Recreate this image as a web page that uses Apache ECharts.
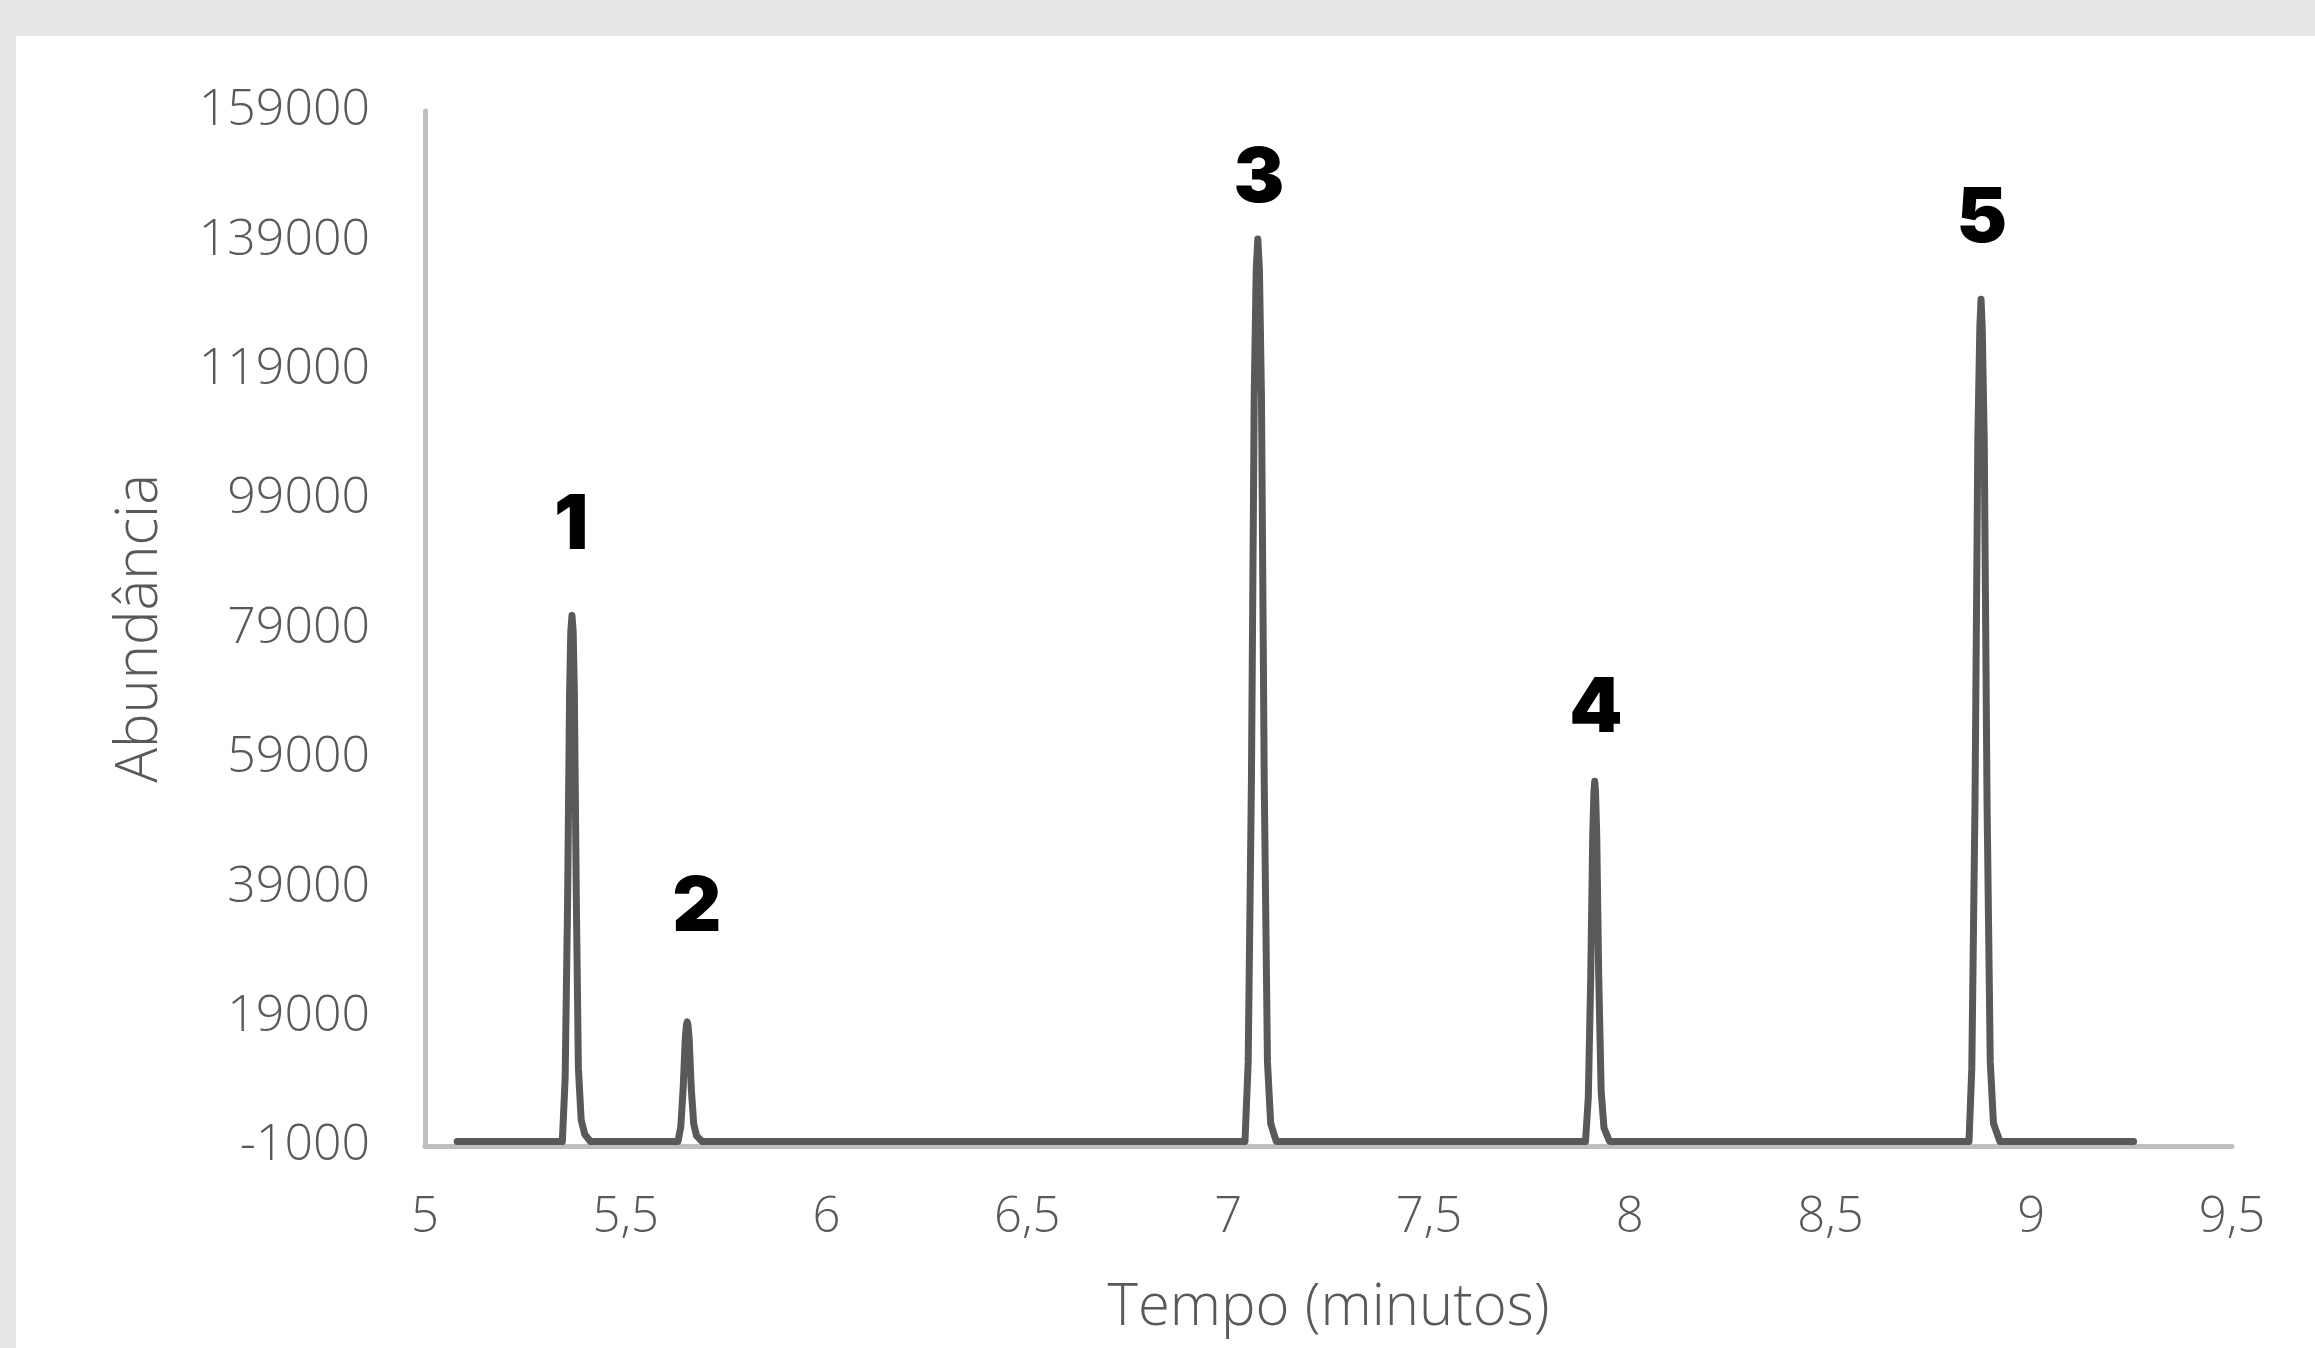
<!DOCTYPE html>
<html>
<head>
<meta charset="utf-8">
<title>Cromatograma</title>
<script src="https://cdn.jsdelivr.net/npm/echarts@6/dist/echarts.min.js"></script>
<style>
  html, body { margin: 0; padding: 0; background: #e6e6e4; }
  #chart { position: absolute; left: 16px; top: 36px; width: 2299px; height: 1312px; background: #fff; }
</style>
</head>
<body>
<div id="chart"></div>
<script>
  var tempo = [5.08,
    5.342, 5.349, 5.355, 5.360, 5.363, 5.366, 5.369, 5.372, 5.377, 5.382, 5.389, 5.398, 5.412,
    5.630, 5.637, 5.643, 5.648, 5.651, 5.653, 5.655, 5.658, 5.663, 5.669, 5.676, 5.690,
    7.042, 7.050, 7.058, 7.065, 7.070, 7.074, 7.078, 7.083, 7.090, 7.098, 7.106, 7.120,
    7.890, 7.897, 7.903, 7.908, 7.911, 7.913, 7.915, 7.918, 7.923, 7.929, 7.936, 7.950,
    8.845, 8.852, 8.860, 8.867, 8.872, 8.875, 8.878, 8.883, 8.890, 8.898, 8.906, 8.922,
    9.255];
  var abundancia = [-300,
    -300, 9500, 36300, 68800, 78500, 81000, 78500, 68800, 36300, 11000, 3000, 800, -300,
    -300, 2000, 8000, 15400, 17700, 18200, 17700, 15400, 8000, 2500, 600, -300,
    -300, 12000, 55000, 115000, 134500, 139200, 134500, 115000, 55000, 12000, 2500, -300,
    -300, 6500, 25000, 47000, 53700, 55400, 53700, 47000, 25000, 7500, 1800, -300,
    -300, 11000, 52000, 108000, 125500, 129900, 125500, 108000, 52000, 12000, 2500, -300,
    -300];

  // números dos picos
  var picoNomes = ['1', '2', '3', '4', '5'];
  var picoX = [5.364, 5.677, 7.077, 7.916, 8.877];
  var picoY = [94850, 35700, 148450, 66550, 142300];

  var yTicks = [-1000, 19000, 39000, 59000, 79000, 99000, 119000, 139000, 159000];

  var serie = tempo.map(function (t, i) {
    return [t, abundancia[i]];
  });
  var rotulos = picoX.map(function (t, i) {
    return [t, picoY[i]];
  });

  var fonte = "'Open Sans', sans-serif";
  var myChart = echarts.init(document.getElementById('chart'));
  var option = {
    animation: false,
    grid: { left: 409, right: 83, top: 75, bottom: 202 },
    xAxis: {
      type: 'value',
      min: 5,
      max: 9.5,
      interval: 0.5,
      name: 'Tempo (minutos)',
      nameLocation: 'middle',
      nameGap: 133,
      nameTextStyle: { fontFamily: fonte, fontWeight: 300, fontSize: 58, color: '#595959' },
      axisLine: { onZero: false, lineStyle: { color: '#bfbfbf', width: 5 } },
      axisTick: { show: false },
      splitLine: { show: false },
      axisLabel: {
        margin: 48,
        fontFamily: fonte,
        fontWeight: 300,
        fontSize: 49,
        color: '#595959',
        formatter: function (v) { return String(v).replace('.', ','); }
      }
    },
    yAxis: {
      type: 'value',
      min: -1000,
      max: 159000,
      name: 'Abundância',
      nameLocation: 'middle',
      nameGap: 256,
      nameTextStyle: { fontFamily: fonte, fontWeight: 300, fontSize: 58, color: '#595959' },
      axisLine: { show: true, lineStyle: { color: '#bfbfbf', width: 5 } },
      axisTick: { show: false },
      splitLine: { show: false },
      axisLabel: {
        customValues: yTicks,
        margin: 55,
        fontFamily: fonte,
        fontWeight: 300,
        fontSize: 50,
        color: '#595959',
        formatter: function (v) { return String(v); }
      }
    },
    series: [
      {
        type: 'line',
        data: serie,
        showSymbol: false,
        lineStyle: { color: '#595959', width: 7, join: 'round', cap: 'round' }
      },
      {
        type: 'scatter',
        data: rotulos,
        symbolSize: 1,
        itemStyle: { color: 'rgba(0,0,0,0)', opacity: 1 },
        label: {
          show: true,
          position: 'inside',
          fontFamily: "Inter, sans-serif",
          fontWeight: 900,
          fontSize: 76,
          color: '#000000',
          textBorderWidth: 0,
          formatter: function (p) { return picoNomes[p.dataIndex]; }
        }
      }
    ]
  };
  option && myChart.setOption(option);
</script>
</body>
</html>
